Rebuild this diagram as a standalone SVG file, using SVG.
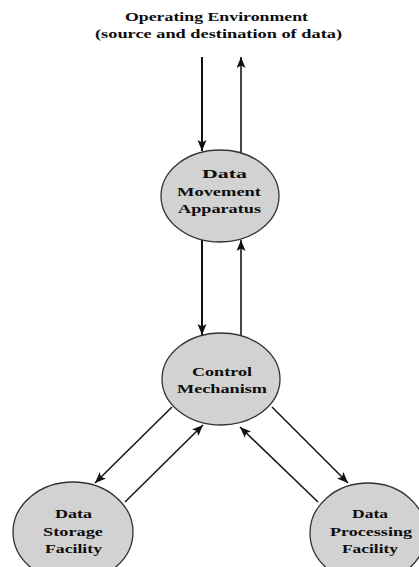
<svg xmlns="http://www.w3.org/2000/svg" width="419" height="567" viewBox="0 0 419 567">
  <style>
    .node { fill: #d2d2d2; stroke: #333; stroke-width: 1.3; }
    .lbl { font-family: "Liberation Serif", "Times New Roman", serif; font-weight: bold; font-size: 12.5px; fill: #0d0d0d; }
    .flow { fill: none; stroke: #1a1a1a; stroke-width: 1.6; marker-end: url(#head); }
    .flow.in { stroke-width: 2; stroke: #111; }
  </style>
  <defs>
    <marker id="head" markerUnits="userSpaceOnUse" markerWidth="12" markerHeight="10" refX="11" refY="4.5" orient="auto">
      <path d="M0,0 L11,4.5 L0,9 L2.5,4.5 z" fill="#111"/>
    </marker>
  </defs>
  <rect width="419" height="567" fill="#fff"/>

  <!-- heading -->
  <g id="environment">
    <text class="lbl" x="125" y="21" textLength="183" lengthAdjust="spacingAndGlyphs">Operating Environment</text>
    <text class="lbl" x="95" y="38" textLength="247" lengthAdjust="spacingAndGlyphs">(source and destination of data)</text>
  </g>

  <!-- connectors -->
  <g id="connectors">
    <line class="flow in" x1="202" y1="57" x2="202" y2="151"/>
    <line class="flow" x1="241" y1="153" x2="241" y2="57"/>
    <line class="flow in" x1="202" y1="240" x2="202" y2="335"/>
    <line class="flow" x1="241" y1="335" x2="241" y2="240"/>
    <line class="flow" x1="172" y1="407" x2="95" y2="483"/>
    <line class="flow" x1="125" y1="502" x2="203" y2="425"/>
    <line class="flow" x1="272" y1="407" x2="348" y2="483"/>
    <line class="flow" x1="318" y1="502" x2="240" y2="427"/>
  </g>

  <g id="data-movement">
    <ellipse class="node" cx="220" cy="196" rx="59" ry="46"/>
    <text class="lbl" x="202" y="178" textLength="45" lengthAdjust="spacingAndGlyphs">Data</text>
    <text class="lbl" x="177" y="196" textLength="84" lengthAdjust="spacingAndGlyphs">Movement</text>
    <text class="lbl" x="178" y="213" textLength="83" lengthAdjust="spacingAndGlyphs">Apparatus</text>
  </g>

  <g id="control">
    <ellipse class="node" cx="221" cy="379" rx="59" ry="46"/>
    <text class="lbl" x="192" y="376" textLength="60" lengthAdjust="spacingAndGlyphs">Control</text>
    <text class="lbl" x="177" y="393" textLength="90" lengthAdjust="spacingAndGlyphs">Mechanism</text>
  </g>

  <g id="data-storage">
    <ellipse class="node" cx="73" cy="532" rx="60" ry="50"/>
    <text class="lbl" x="55" y="518" textLength="37" lengthAdjust="spacingAndGlyphs">Data</text>
    <text class="lbl" x="43" y="536" textLength="60" lengthAdjust="spacingAndGlyphs">Storage</text>
    <text class="lbl" x="45" y="553" textLength="57" lengthAdjust="spacingAndGlyphs">Facility</text>
  </g>

  <g id="data-processing">
    <ellipse class="node" cx="368" cy="533" rx="58" ry="50"/>
    <text class="lbl" x="352" y="518" textLength="36" lengthAdjust="spacingAndGlyphs">Data</text>
    <text class="lbl" x="330" y="536" textLength="82" lengthAdjust="spacingAndGlyphs">Processing</text>
    <text class="lbl" x="342" y="553" textLength="56" lengthAdjust="spacingAndGlyphs">Facility</text>
  </g>
</svg>
